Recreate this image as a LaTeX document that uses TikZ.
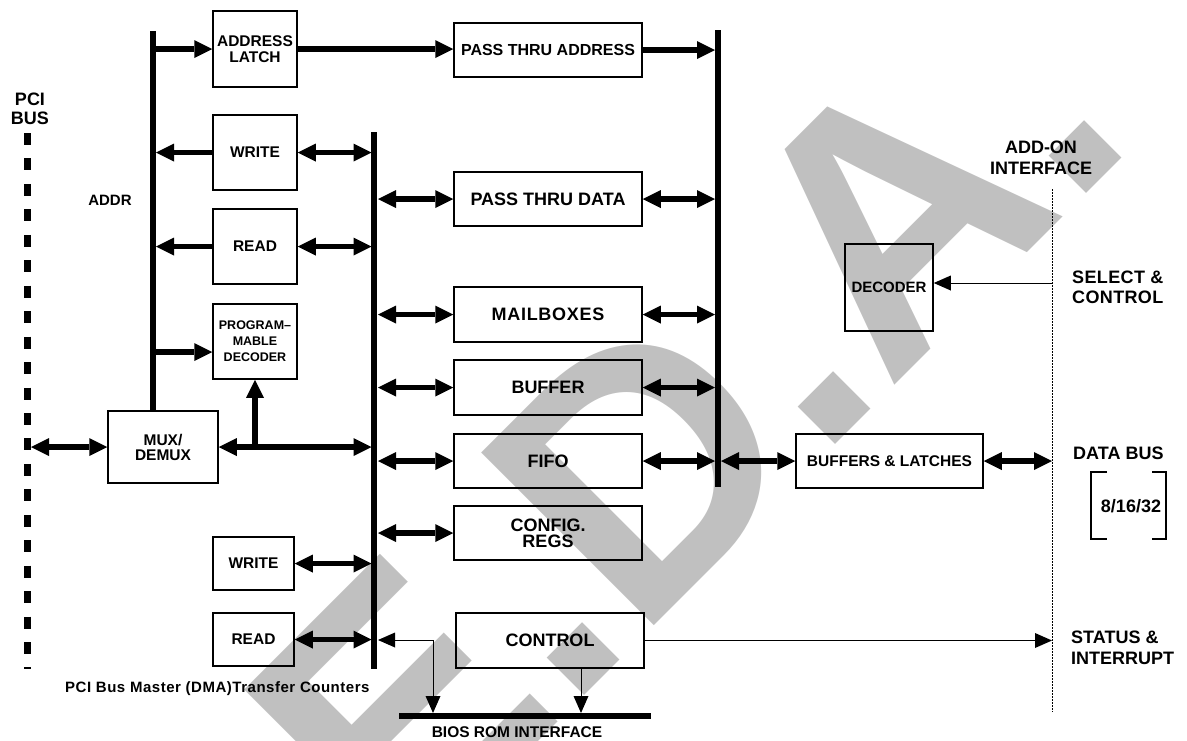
\documentclass[tikz,border=0pt]{standalone}
\usepackage{fontspec}
\setmainfont{Liberation Sans}
\usetikzlibrary{arrows.meta}
\definecolor{wm}{HTML}{C0C0C0}
\tikzset{
  box/.style={draw, line width=1.5pt, inner sep=0pt, align=center},
  lbl/.style={inner sep=0pt, align=center},
  busline/.style={line width=6pt},
  bigtip/.tip={Triangle[length=18pt,width=18pt,line width=0pt]},
  smalltip/.tip={Triangle[length=17pt,width=15pt,line width=0pt]},
  thk/.style={line width=5.5pt, -bigtip},
  bidir/.style={line width=5.5pt, bigtip-bigtip},
  thn/.style={line width=1pt, -smalltip},
  thnbi/.style={line width=1pt, smalltip-smalltip},
  fL/.style={font=\bfseries\fontsize{18}{19}\selectfont},
  fM/.style={font=\bfseries\fontsize{15.5}{16}\selectfont},
  fS/.style={font=\bfseries\fontsize{12.5}{16}\selectfont},
}
\begin{document}
\begin{tikzpicture}[x=1pt,y=-1pt]
\useasboundingbox (0,0) rectangle (1187,740);
% watermark
\begin{scope}
\clip (0,0) rectangle (1187,740);
\node[rotate=45, anchor=base west, inner sep=0pt, text=wm,
      font=\bfseries\fontsize{355}{355}\selectfont] (wmark) at (400,880) {E.D.A.};
\end{scope}

% coordinates for buses
\coordinate (lbT) at (153,31);
\coordinate (lbR) at (156,0);
\coordinate (mbT) at (374,132);
\coordinate (mbB) at (374,669);
\coordinate (mbL) at (371.5,0);
\coordinate (mbR) at (378,0);
\coordinate (rbT) at (718,30);
\coordinate (rbB) at (718,487);
\coordinate (rbL) at (715,0);
\coordinate (rbR) at (721,0);
\coordinate (pciT) at (27.5,133);
\coordinate (pciB) at (27.5,669);
\coordinate (pciR) at (31,0);
\coordinate (dotT) at (1052,189);
\coordinate (dotB) at (1052,712);
\coordinate (dotL) at (1052,0);
\coordinate (biosL) at (399,716);
\coordinate (biosR) at (651,716);
\coordinate (biosT) at (0,713);
\coordinate (pdin) at (156,352);
\coordinate (selc) at (1052,283);
\coordinate (bj) at (433,640);
\coordinate (ctrlx) at (581,0);

% boxes
\node[box, fM, minimum width=84pt, minimum height=76pt] (alatch) at (255,49) {ADDRESS\\LATCH};
\node[box, fM, minimum width=84pt, minimum height=75pt] (write1) at (255,152.5) {WRITE};
\node[box, fM, minimum width=84pt, minimum height=75pt] (read1) at (255,246.5) {READ};
\node[box, fS, minimum width=84pt, minimum height=75pt] (progdec) at (255,341.5) {PROGRAM\textendash\\MABLE\\DECODER};
\node[box, fM, minimum width=110pt, minimum height=72pt, font=\bfseries\fontsize{15.5}{15}\selectfont] (mux) at (163,447) {MUX/\\DEMUX};
\node[box, fM, font=\bfseries\fontsize{16}{16}\selectfont, minimum width=188pt, minimum height=54pt] (ptaddr) at (548,50) {PASS THRU ADDRESS};
\node[box, fL, minimum width=188pt, minimum height=54pt] (ptdata) at (548,199) {PASS THRU DATA};
\node[box, font=\bfseries\fontsize{18}{19}\selectfont\addfontfeatures{LetterSpace=4}, minimum width=188pt, minimum height=55pt] (mail) at (548,314.5) {MAILBOXES};
\node[box, fL, minimum width=188pt, minimum height=55pt] (buffer) at (548,387.5) {BUFFER};
\node[box, fL, minimum width=188pt, minimum height=54pt] (fifo) at (548,461) {FIFO};
\node[box, font=\bfseries\fontsize{18}{16}\selectfont, minimum width=188pt, minimum height=54pt] (config) at (548,533) {CONFIG.\\REGS};
\node[box, fL, minimum width=188pt, minimum height=55pt] (control) at (550,640.5) {CONTROL};
\node[box, fM, minimum width=81pt, minimum height=53pt] (write2) at (253.5,563.5) {WRITE};
\node[box, fM, minimum width=81pt, minimum height=53pt] (read2) at (253.5,639.5) {READ};
\node[box, fM, font=\bfseries\fontsize{15}{16}\selectfont, minimum width=88pt, minimum height=87pt] (dec) at (889,287.5) {DECODER};
\node[box, fM, minimum width=187pt, minimum height=54pt] (bl) at (889.5,461) {BUFFERS \& LATCHES};

% buses
\draw[busline] (lbT) -- (lbT |- mux.north);
\draw[line width=5.5pt] (mbT) -- (mbB);
\draw[busline] (rbT) -- (rbB);
\draw[busline] (biosL) -- (biosR);
\draw[line width=7pt, dash pattern=on 12pt off 13.45pt] (pciT) -- (pciB);
\draw[line width=0.9pt, dash pattern=on 1.5pt off 1.5pt] (dotT) -- (dotB);

% thick connectors
\draw[thk] (alatch.west -| lbR) -- (alatch.west);
\draw[thk] (alatch.east) -- (alatch.east -| ptaddr.west);
\draw[thk] (ptaddr.east) -- (ptaddr.east -| rbL);
\draw[thk] (write1.west) -- (write1.west -| lbR);
\draw[bidir] (write1.east) -- (write1.east -| mbL);
\draw[thk] (read1.west) -- (read1.west -| lbR);
\draw[bidir] (read1.east) -- (read1.east -| mbL);
\draw[thk] (pdin) -- (pdin -| progdec.west);
\draw[bidir] (pciR |- mux.west) -- (mux.west);
\draw[bidir] (mux.east) -- (mux.east -| mbL);
\draw[thk] (progdec.south |- mux.east) -- (progdec.south);
\foreach \m in {ptdata,mail,buffer,fifo,config}{
  \draw[bidir] (\m.west -| mbR) -- (\m.west);
}
\foreach \m in {ptdata,mail,buffer,fifo}{
  \draw[bidir] (\m.east) -- (\m.east -| rbL);
}
\draw[bidir] (rbR |- bl.west) -- (bl.west);
\draw[bidir] (bl.east) -- (bl.east -| dotL);
\draw[bidir] (write2.east) -- (write2.east -| mbL);
\draw[bidir] (read2.east) -- (read2.east -| mbL);

% thin connectors
\draw[thn] (control.east) -- (control.east -| dotL);
\draw[thn] (selc) -- (selc -| dec.east);
\draw[thnbi] (bj -| mbR) -- (bj) -- (bj |- biosT);
\draw[thn] (control.south -| ctrlx) -- (ctrlx |- biosT);

% bracket
\draw[line width=1.3pt] (1107,472) -- (1091,472) -- (1091,539) -- (1107,539);
\draw[line width=1.3pt] (1152,472) -- (1166,472) -- (1166,539) -- (1152,539);

% labels
\node[lbl, fL] (pcibus) at (30,109) {PCI\\BUS};
\node[lbl, font=\bfseries\fontsize{15}{16}\selectfont] (addr) at (110,200) {ADDR};
\node[lbl, font=\bfseries\fontsize{15}{16}\selectfont\addfontfeatures{LetterSpace=3.5}, anchor=base west] (dmac) at (65,692.5) {PCI Bus Master (DMA)Transfer Counters};
\node[lbl, fM] (biostxt) at (517,732) {BIOS ROM INTERFACE};
\node[lbl, font=\bfseries\fontsize{18}{21}\selectfont] (addon) at (1041,157.5) {ADD-ON\\INTERFACE};
\node[lbl, font=\bfseries\fontsize{18}{20}\selectfont\addfontfeatures{LetterSpace=2}, align=left, anchor=west] (selt) at (1072,287) {SELECT \&\\CONTROL};
\node[lbl, fL, anchor=west] (dbus) at (1073,453) {DATA BUS};
\node[lbl, fL] (width) at (1131,506) {8/16/32};
\node[lbl, font=\bfseries\fontsize{18}{21}\selectfont, align=left, anchor=west] (stat) at (1071,647.5) {STATUS \&\\INTERRUPT};
\end{tikzpicture}
\end{document}
